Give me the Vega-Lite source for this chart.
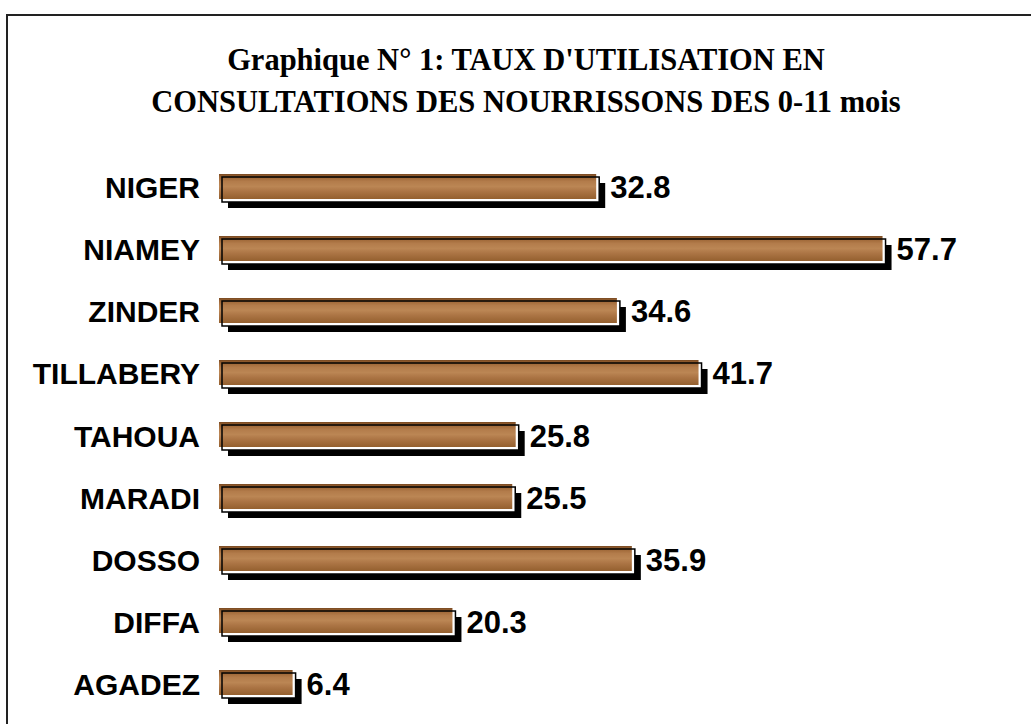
{
  "$schema": "https://vega.github.io/schema/vega-lite/v6.json",
  "width": 1044,
  "height": 729,
  "autosize": {"type": "none"},
  "padding": {"left": 7, "top": 15, "right": -20, "bottom": -20},
  "background": "white",
  "config": {
    "view": {"stroke": "#222222", "strokeWidth": 2},
    "text": {"font": "Liberation Sans"}
  },
  "title": {
    "text": ["Graphique N° 1: TAUX D'UTILISATION EN", "CONSULTATIONS DES NOURRISSONS DES 0-11 mois"],
    "font": "Liberation Serif",
    "fontSize": 30.5,
    "fontWeight": "bold",
    "lineHeight": 42,
    "color": "black",
    "anchor": "middle",
    "baseline": "top",
    "offset": -103,
    "dx": -3
  },
  "data": {
    "values": [
      {"region": "NIGER", "taux": 32.8},
      {"region": "NIAMEY", "taux": 57.7},
      {"region": "ZINDER", "taux": 34.6},
      {"region": "TILLABERY", "taux": 41.7},
      {"region": "TAHOUA", "taux": 25.8},
      {"region": "MARADI", "taux": 25.5},
      {"region": "DOSSO", "taux": 35.9},
      {"region": "DIFFA", "taux": 20.3},
      {"region": "AGADEZ", "taux": 6.4}
    ]
  },
  "encoding": {
    "y": {
      "field": "region",
      "type": "nominal",
      "sort": null,
      "axis": null,
      "scale": {"range": [159, 680], "paddingInner": 0.597, "paddingOuter": 0, "round": false}
    },
    "x": {
      "field": "taux",
      "type": "quantitative",
      "axis": null,
      "scale": {"domain": [-18.4348, 72.3478], "nice": false, "zero": false}
    }
  },
  "layer": [
    {
      "mark": {"type": "bar", "color": "black", "xOffset": 9, "x2Offset": 9, "yOffset": 9, "y2Offset": 9},
      "encoding": {"x2": {"datum": 0}}
    },
    {
      "mark": {"type": "bar", "color": "white", "xOffset": 3, "x2Offset": 3, "yOffset": 3, "y2Offset": 3},
      "encoding": {"x2": {"datum": 0}}
    },
    {
      "mark": {
        "type": "bar",
        "fill": {
          "gradient": "linear", "x1": 0, "y1": 0, "x2": 0, "y2": 1,
          "stops": [
            {"offset": 0, "color": "#7a4a22"},
            {"offset": 0.12, "color": "#9c6535"},
            {"offset": 0.3, "color": "#b37c4b"},
            {"offset": 0.5, "color": "#bb8654"},
            {"offset": 0.7, "color": "#ab7444"},
            {"offset": 1, "color": "#94602f"}
          ]
        }
      },
      "encoding": {"x2": {"datum": 0}}
    },
    {
      "mark": {"type": "bar", "fill": "transparent", "stroke": "black", "strokeWidth": 1.5, "xOffset": 3, "x2Offset": 3, "yOffset": 3, "y2Offset": 3},
      "encoding": {"x2": {"datum": 0}}
    },
    {
      "mark": {"type": "text", "align": "left", "baseline": "middle", "dx": 14, "dy": 3, "fontSize": 31, "fontWeight": "bold", "color": "black", "font": "Liberation Sans"},
      "encoding": {"text": {"field": "taux", "type": "quantitative", "format": ".1f"}}
    },
    {
      "mark": {"type": "text", "align": "right", "baseline": "middle", "dy": 3, "fontSize": 30, "fontWeight": "bold", "color": "black", "font": "Liberation Sans"},
      "encoding": {
        "x": {"datum": -1.652},
        "text": {"field": "region", "type": "nominal"}
      }
    }
  ]
}
